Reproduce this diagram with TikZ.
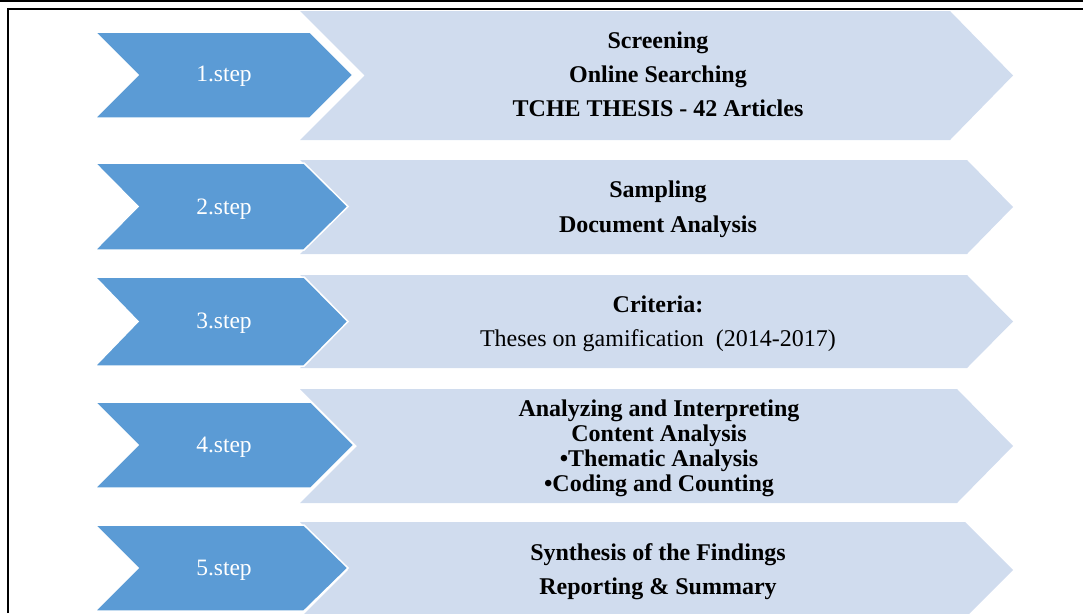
\documentclass[tikz,border=0pt]{standalone}
\usepackage{fontspec}
\setmainfont{Liberation Serif}
\definecolor{darkblue}{HTML}{5B9BD5}
\definecolor{lightblue}{HTML}{D0DCEE}
\tikzset{
  lightchev/.style={fill=lightblue, draw=none},
  darkchev/.style={fill=darkblue, draw=white, line width=1.5pt, line join=miter},
  steplabel/.style={text=white, inner sep=0pt, font=\fontsize{23.5}{28}\selectfont},
  body/.style={inner sep=0pt, align=center, text=black, font=\bfseries\fontsize{24}{34}\selectfont},
  frameline/.style={draw=black, line width=2pt}
}
\begin{document}
\begin{tikzpicture}[x=1pt,y=-1pt]
\useasboundingbox (0,0) rectangle (1083,613);
\clip (0,0) rectangle (1083,613);
% frame
\draw[frameline] (0,1) -- (1083,1);
\draw[frameline] (8,613) -- (8,9) -- (1083,9);
% light chevrons
\fill[lightchev] (300,11) -- (950,11) -- (1013,75.5) -- (950,140) -- (300,140) -- (364.5,75.5) -- cycle;
\fill[lightchev] (300,160) -- (967,160) -- (1013,207) -- (967,254) -- (300,254) -- (347,207) -- cycle;
\fill[lightchev] (300,275) -- (967,275) -- (1013,321.5) -- (967,368) -- (300,368) -- (346.5,321.5) -- cycle;
\fill[lightchev] (300,389) -- (957,389) -- (1013,446) -- (957,503) -- (300,503) -- (357,446) -- cycle;
\fill[lightchev] (300,522) -- (965,522) -- (1013,570) -- (965,618) -- (300,618) -- (348,570) -- cycle;
% dark chevrons
\filldraw[darkchev] (95,32) -- (310,32) -- (353,75) -- (310,118) -- (95,118) -- (138,75) -- cycle;
\filldraw[darkchev] (95,163) -- (304,163) -- (348,206.5) -- (304,250) -- (95,250) -- (138,206.5) -- cycle;
\filldraw[darkchev] (95,277) -- (304,277) -- (348,321.5) -- (304,366) -- (95,366) -- (138,321.5) -- cycle;
\filldraw[darkchev] (95,402) -- (311,402) -- (354,445) -- (311,488) -- (95,488) -- (138,445) -- cycle;
\filldraw[darkchev] (95,525) -- (304,525) -- (348,568) -- (304,611) -- (95,611) -- (138,568) -- cycle;
% step labels
\node[steplabel] (s1) at (224,76.5) {1.step};
\node[steplabel] (s2) at (224,209) {2.step};
\node[steplabel] (s3) at (224,323.5) {3.step};
\node[steplabel] (s4) at (224,447) {4.step};
\node[steplabel] (s5) at (224,570) {5.step};
% contents
\node[body] (t1) at (658,74.5) {Screening\\Online Searching\\TCHE THESIS - 42 Articles};
\node[body, font=\bfseries\fontsize{24}{35}\selectfont] (t2) at (658,209) {Sampling\\Document Analysis};
\node[body] (t3) at (658,324) {Criteria:\\\mdseries Theses on gamification\ \ (2014-2017)};
\node[body, font=\bfseries\fontsize{24}{25}\selectfont] (t4) at (659,448) {Analyzing and Interpreting\\Content Analysis\\•Thematic Analysis\\•Coding and Counting};
\node[body] (t5) at (658,571.5) {Synthesis of the Findings\\Reporting \& Summary};
\end{tikzpicture}
\end{document}
